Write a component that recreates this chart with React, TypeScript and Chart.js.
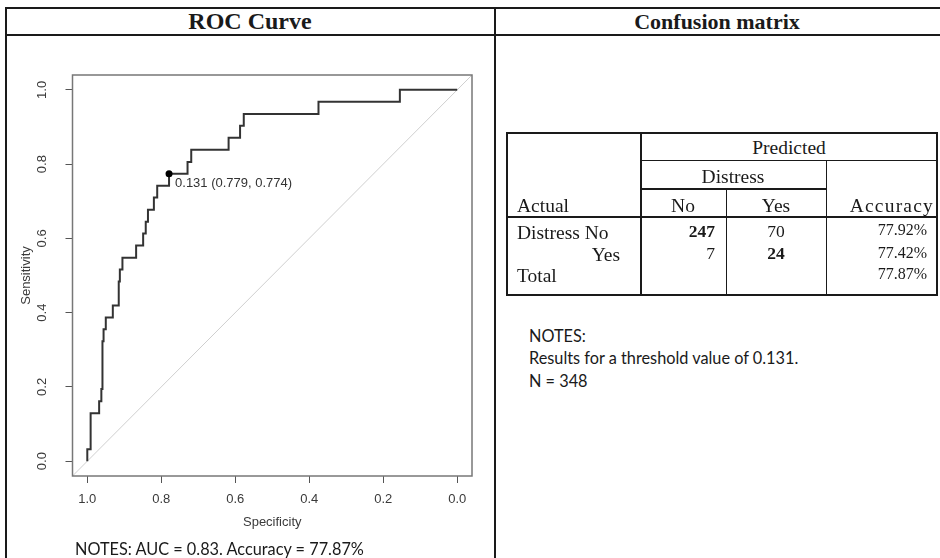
import React, { useEffect, useRef } from "react";
import { Chart, registerables } from "chart.js";

Chart.register(...registerables);

// ---------- ROC curve data ----------
// Each pair is the top of a vertical step of the empirical ROC curve.
const stepSpecificity = [
  1.0, 0.991, 0.968, 0.962, 0.959, 0.956, 0.95, 0.931, 0.915, 0.912, 0.905, 0.868, 0.849,
  0.842, 0.836, 0.82, 0.811, 0.779, 0.729, 0.719, 0.618, 0.587, 0.577, 0.375, 0.155,
];
const stepSensitivity = [
  0.032, 0.129, 0.161, 0.194, 0.323, 0.355, 0.387, 0.419, 0.484, 0.516, 0.548, 0.581, 0.613,
  0.645, 0.677, 0.71, 0.742, 0.774, 0.806, 0.839, 0.871, 0.903, 0.935, 0.968, 1.0,
];
const curveStart = [1.0, 0.0]; // [specificity, sensitivity]
const curveEnd = [0.0, 1.0];

const thresholdSpecificity = 0.779;
const thresholdSensitivity = 0.774;
const thresholdLabel = "0.131 (0.779, 0.774)";

const axisTickValues = [0.0, 0.2, 0.4, 0.6, 0.8, 1.0];
const axisMin = -0.04;
const axisMax = 1.04;

// ---------- Confusion matrix data ----------
const predictedLabel = "Predicted";
const groupLabel = "Distress";
const predictedClasses = ["No", "Yes"];
const actualRowLabels = ["Distress No", "Yes", "Total"];
const predictedNoCounts = [247, 7];
const predictedYesCounts = [70, 24];
const accuracyPercent = [77.92, 77.42, 77.87];

const leftNotes = "NOTES: AUC = 0.83. Accuracy = 77.87%";
const rightNotes = ["NOTES:", "Results for a threshold value of 0.131.", "N = 348"];

const SANS = '"Liberation Sans", Arial, sans-serif';
const SERIF = '"Liberation Serif", "Times New Roman", serif';
const NOTE_FONT = 'Lato, "Open Sans", sans-serif';
const AXIS_COLOR = "#3a3a3a";

function buildCurve() {
  const pts: { x: number; y: number }[] = [{ x: curveStart[0], y: curveStart[1] }];
  let prev = curveStart[1];
  stepSpecificity.forEach((s, i) => {
    pts.push({ x: s, y: prev });
    pts.push({ x: s, y: stepSensitivity[i] });
    prev = stepSensitivity[i];
  });
  pts.push({ x: curveEnd[0], y: curveEnd[1] });
  return pts;
}

const rocDecor = {
  id: "rocDecor",
  afterDatasetsDraw(chart: any) {
    const { ctx, chartArea, scales } = chart;
    const { left, top, right, bottom } = chartArea;
    ctx.save();
    ctx.strokeStyle = "#777";
    ctx.lineWidth = 1.5;
    ctx.strokeRect(left, top, right - left, bottom - top);
    const px = scales.x.getPixelForValue(thresholdSpecificity);
    const py = scales.y.getPixelForValue(thresholdSensitivity);
    ctx.fillStyle = "#333";
    ctx.font = `13px ${SANS}`;
    ctx.textAlign = "left";
    ctx.textBaseline = "middle";
    ctx.fillText(thresholdLabel, px + 6, py + 10);
    ctx.restore();
  },
};

function Txt(p: {
  x: number;
  y: number;
  text: string;
  align: "left" | "center" | "right";
  size: number;
  family: string;
  bold?: boolean;
  ls?: number;
  color?: string;
}) {
  const lh = Math.round(p.size * 1.3);
  const w = 400;
  let left = p.x;
  if (p.align === "center") left = p.x - w / 2;
  if (p.align === "right") left = p.x - w;
  return (
    <div
      style={{
        position: "absolute",
        left,
        top: p.y - lh / 2,
        width: w,
        height: lh,
        lineHeight: `${lh}px`,
        textAlign: p.align,
        fontFamily: p.family,
        fontSize: p.size,
        fontWeight: p.bold ? "bold" : "normal",
        letterSpacing: p.ls ? `${p.ls}px` : undefined,
        color: p.color || "#1a1a1a",
        whiteSpace: "nowrap",
      }}
    >
      {p.text}
    </div>
  );
}

function Line(p: { x: number; y: number; w: number; h: number; c?: string }) {
  return (
    <div
      style={{
        position: "absolute",
        left: p.x,
        top: p.y,
        width: p.w,
        height: p.h,
        background: p.c || "#1a1a1a",
      }}
    />
  );
}

export default function App() {
  const ref = useRef<HTMLCanvasElement>(null);

  useEffect(() => {
    const canvas = ref.current;
    if (!canvas) return;
    const tickFont = { family: SANS, size: 13 };
    const chart = new Chart(canvas, {
      type: "scatter",
      data: {
        datasets: [
          {
            label: "threshold",
            data: [{ x: thresholdSpecificity, y: thresholdSensitivity }],
            showLine: false,
            pointRadius: 3.5,
            pointBackgroundColor: "#000",
            pointBorderColor: "#000",
            pointBorderWidth: 0,
          },
          {
            label: "ROC",
            data: buildCurve(),
            showLine: true,
            borderColor: "#333",
            borderWidth: 2,
            pointRadius: 0,
            tension: 0,
            fill: false,
          },
          {
            label: "diagonal",
            data: [
              { x: axisMax, y: axisMin },
              { x: axisMin, y: axisMax },
            ],
            showLine: true,
            borderColor: "#cfcfcf",
            borderWidth: 1,
            pointRadius: 0,
            fill: false,
          },
        ],
      },
      options: {
        animation: false,
        responsive: false,
        devicePixelRatio: 1,
        layout: { padding: { top: 39, right: 22, bottom: 22, left: 0 } },
        plugins: { legend: { display: false }, tooltip: { enabled: false } },
        scales: {
          x: {
            type: "linear",
            reverse: true,
            min: axisMin,
            max: axisMax,
            afterBuildTicks: (s: any) => {
              s.ticks = axisTickValues.map((v) => ({ value: v }));
            },
            afterFit: (s: any) => {
              s.height = 60;
            },
            ticks: {
              callback: (v: any) => Number(v).toFixed(1),
              font: tickFont,
              color: AXIS_COLOR,
              padding: 9,
              maxRotation: 0,
              autoSkip: false,
            },
            grid: { drawOnChartArea: false, drawTicks: true, tickLength: 7, color: "#555" },
            border: { display: false },
            title: {
              display: true,
              text: "Specificity",
              font: tickFont,
              color: AXIS_COLOR,
              padding: { top: 0, bottom: 6 },
            },
          },
          y: {
            type: "linear",
            min: axisMin,
            max: axisMax,
            afterBuildTicks: (s: any) => {
              s.ticks = axisTickValues.map((v) => ({ value: v }));
            },
            afterFit: (s: any) => {
              s.width = 66.5;
            },
            ticks: {
              callback: (v: any) => Number(v).toFixed(1),
              font: tickFont,
              color: AXIS_COLOR,
              padding: 14,
              minRotation: 90,
              maxRotation: 90,
              crossAlign: "center",
              autoSkip: false,
            },
            grid: { drawOnChartArea: false, drawTicks: true, tickLength: 7, color: "#555" },
            border: { display: false },
            title: {
              display: true,
              text: "Sensitivity",
              font: tickFont,
              color: AXIS_COLOR,
              padding: { top: 13, bottom: 0 },
            },
          },
        },
      },
      plugins: [rocDecor],
    } as any);
    return () => chart.destroy();
  }, []);

  const rowY = [232, 254, 275];
  const accY = [229.5, 252.5, 273.5];

  return (
    <div
      style={{
        position: "fixed",
        left: 0,
        top: 0,
        width: 940,
        height: 558,
        background: "#fff",
        overflow: "hidden",
      }}
    >
      {/* outer frame */}
      <Line x={4.5} y={6.5} w={940} h={2} />
      <Line x={4.5} y={6.5} w={2} h={560} />
      <Line x={4.5} y={34} w={940} h={2} />
      <Line x={494} y={6.5} w={2} h={560} />

      <Txt x={250} y={21} text="ROC Curve" align="center" size={24} family={SERIF} bold />
      <Txt x={717} y={21} text="Confusion matrix" align="center" size={22} family={SERIF} bold />

      <canvas
        ref={ref}
        width={488}
        height={522}
        style={{ position: "absolute", left: 6, top: 36, width: 488, height: 522 }}
      />

      <Txt x={75} y={548} text={leftNotes} align="left" size={16.3} family={NOTE_FONT} />

      {/* confusion matrix table */}
      <Line x={505.5} y={132} w={432} h={2} />
      <Line x={505.5} y={294} w={432} h={2} />
      <Line x={505.5} y={132} w={2} h={164} />
      <Line x={935.5} y={132} w={2} h={164} />
      <Line x={639.5} y={132} w={2} h={164} />
      <Line x={640} y={159.5} w={297} h={1} />
      <Line x={640} y={188} w={186} h={1.5} />
      <Line x={825.5} y={159.5} w={1} h={136} />
      <Line x={725.5} y={188} w={1} h={107} />
      <Line x={505.5} y={215.5} w={432} h={2} />

      <Txt x={789} y={147} text={predictedLabel} align="center" size={19.5} family={SERIF} />
      <Txt x={733} y={176} text={groupLabel} align="center" size={19.5} family={SERIF} />
      <Txt x={517} y={205} text="Actual" align="left" size={19.5} family={SERIF} />
      <Txt x={683} y={205} text={predictedClasses[0]} align="center" size={19.5} family={SERIF} />
      <Txt x={776} y={205} text={predictedClasses[1]} align="center" size={19.5} family={SERIF} />
      <Txt x={934} y={205} text="Accuracy" align="right" size={19.5} family={SERIF} ls={1.2} />

      <Txt x={517} y={rowY[0]} text={actualRowLabels[0]} align="left" size={19.5} family={SERIF} />
      <Txt x={620} y={rowY[1]} text={actualRowLabels[1]} align="right" size={19.5} family={SERIF} />
      <Txt x={517} y={rowY[2]} text={actualRowLabels[2]} align="left" size={19.5} family={SERIF} />

      {predictedNoCounts.map((v, i) => (
        <Txt
          key={"n" + i}
          x={715}
          y={rowY[i] - 1}
          text={String(v)}
          align="right"
          size={17.5}
          family={SERIF}
          bold={i === 0}
        />
      ))}
      {predictedYesCounts.map((v, i) => (
        <Txt
          key={"y" + i}
          x={776}
          y={rowY[i] - 1}
          text={String(v)}
          align="center"
          size={17.5}
          family={SERIF}
          bold={i === 1}
        />
      ))}
      {accuracyPercent.map((v, i) => (
        <Txt
          key={"a" + i}
          x={927}
          y={accY[i]}
          text={v.toFixed(2) + "%"}
          align="right"
          size={16}
          family={SERIF}
        />
      ))}

      {rightNotes.map((t, i) => (
        <Txt key={"r" + i} x={529} y={335 + i * 22.5} text={t} align="left" size={16.3} family={NOTE_FONT} />
      ))}
    </div>
  );
}
